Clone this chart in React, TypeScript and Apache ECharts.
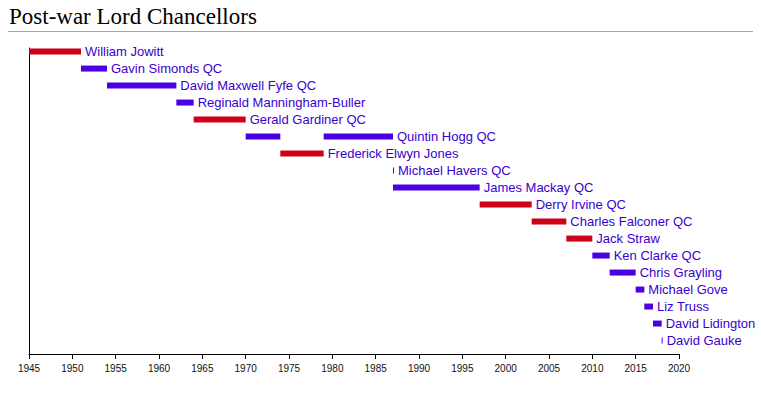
import React, { useEffect, useRef } from "react";
import * as echarts from "echarts";

// Rows (top to bottom) – one label per row
const rowNames = [
  "William Jowitt",
  "Gavin Simonds QC",
  "David Maxwell Fyfe QC",
  "Reginald Manningham-Buller",
  "Gerald Gardiner QC",
  "Quintin Hogg QC",
  "Frederick Elwyn Jones",
  "Michael Havers QC",
  "James Mackay QC",
  "Derry Irvine QC",
  "Charles Falconer QC",
  "Jack Straw",
  "Ken Clarke QC",
  "Chris Grayling",
  "Michael Gove",
  "Liz Truss",
  "David Lidington",
  "David Gauke",
];

// Terms of office (one entry per bar)
const termRow = [0, 1, 2, 3, 4, 5, 5, 6, 7, 8, 9, 10, 11, 12, 13, 14, 15, 16, 17];
const termStart = [1945, 1951, 1954, 1962, 1964, 1970, 1979, 1974, 1987, 1987, 1997, 2003, 2007, 2010, 2012, 2015, 2016, 2017, 2018];
const termEnd = [1951, 1954, 1962, 1964, 1970, 1974, 1987, 1979, 1987.1, 1997, 2003, 2007, 2010, 2012, 2015, 2016, 2017, 2018, 2018.1];
const termParty = ["Lab", "Con", "Con", "Con", "Lab", "Con", "Con", "Lab", "Con", "Con", "Lab", "Lab", "Lab", "Con", "Con", "Con", "Con", "Con", "Con"];
// whether the row label follows this bar
const termLabelled = [1, 1, 1, 1, 1, 0, 1, 1, 1, 1, 1, 1, 1, 1, 1, 1, 1, 1, 1];

const title = "Post-war Lord Chancellors";

const partyColor: Record<string, string> = { Lab: "#cc0018", Con: "#4a00e0" };
const labelColor = "#3a00d0";

export default function App() {
  const ref = useRef<HTMLDivElement>(null);
  useEffect(() => {
    if (!ref.current) return;
    const chart = echarts.init(ref.current, null, { renderer: "svg" });
    const data = termRow.map((r, i) => [r, termStart[i], termEnd[i]]);
    chart.setOption({
      animation: false,
      title: {
        text: title,
        left: 9,
        top: 5,
        padding: 0,
        textStyle: {
          fontFamily: "Liberation Serif",
          fontSize: 23,
          fontWeight: "normal",
          color: "#000",
        },
      },
      graphic: [
        {
          type: "line",
          shape: { x1: 8, y1: 31.5, x2: 753, y2: 31.5 },
          style: { stroke: "#a2a9b1", lineWidth: 1 },
        },
      ],
      grid: { left: 29, right: 82, top: 48, bottom: 39 },
      xAxis: {
        type: "value",
        min: 1945,
        max: 2020,
        interval: 5,
        axisLine: { show: true, onZero: false, lineStyle: { color: "#000", width: 1 } },
        axisTick: { show: true, length: 5, lineStyle: { color: "#000" } },
        splitLine: { show: false },
        axisLabel: {
          fontFamily: "Liberation Sans",
          fontSize: 10,
          color: "#111",
          margin: 9,
          formatter: (v: number) => String(v),
        },
      },
      yAxis: {
        type: "value",
        inverse: true,
        min: -0.18,
        max: 17.82,
        axisLine: { show: true, onZero: false, lineStyle: { color: "#000", width: 1 } },
        axisTick: { show: false },
        axisLabel: { show: false },
        splitLine: { show: false },
      },
      series: [
        {
          type: "custom",
          data,
          encode: { x: [1, 2], y: 0 },
          renderItem: (params: any, api: any) => {
            const i = params.dataIndex;
            const row = api.value(0);
            const s = api.coord([api.value(1), row]);
            const e = api.coord([api.value(2), row]);
            const h = 6;
            const children: any[] = [
              {
                type: "rect",
                shape: { x: s[0], y: s[1] - h / 2 + 0.5, width: Math.max(e[0] - s[0], 1), height: h },
                style: { fill: partyColor[termParty[i]] },
              },
            ];
            if (termLabelled[i]) {
              children.push({
                type: "text",
                style: {
                  text: rowNames[termRow[i]],
                  x: Math.max(e[0], s[0] + 1) + 4,
                  y: s[1],
                  verticalAlign: "middle",
                  align: "left",
                  fill: labelColor,
                  font: "13px 'Liberation Sans'",
                },
              });
            }
            return { type: "group", children };
          },
        },
      ],
    });
    return () => chart.dispose();
  }, []);
  return (
    <div
      ref={ref}
      style={{ position: "absolute", left: 0, top: 0, width: 761, height: 393 }}
    />
  );
}
